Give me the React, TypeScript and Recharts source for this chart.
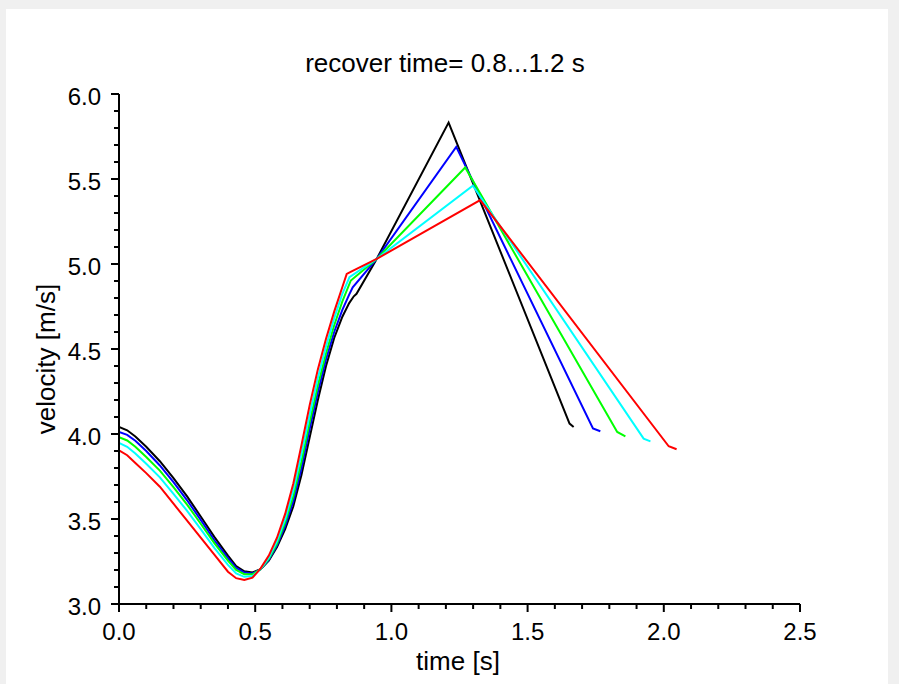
import { LineChart, Line, XAxis, YAxis } from "recharts";

// velocity over one cycle, one series per recover time (0.8 ... 1.2 s)
const black: [number, number][] = [
  [0, 4.041], [0.03, 4.022], [0.06, 3.985], [0.1, 3.925], [0.15, 3.84], [0.2, 3.74],
  [0.25, 3.633], [0.3, 3.515], [0.35, 3.395], [0.4, 3.285], [0.43, 3.223], [0.46, 3.192],
  [0.49, 3.186], [0.52, 3.205], [0.55, 3.255], [0.58, 3.335], [0.61, 3.44], [0.64, 3.575],
  [0.67, 3.76], [0.7, 3.98], [0.73, 4.2], [0.76, 4.4], [0.79, 4.565], [0.82, 4.69],
  [0.845, 4.77], [0.862, 4.81], [0.872, 4.825], [0.946, 5.03], [1.21, 5.832],
  [1.654, 4.061], [1.669, 4.041],
];
const blue: [number, number][] = [
  [0, 4.012], [0.03, 3.995], [0.06, 3.96], [0.1, 3.9], [0.15, 3.815], [0.2, 3.717],
  [0.25, 3.61], [0.3, 3.495], [0.35, 3.375], [0.4, 3.27], [0.43, 3.212], [0.46, 3.185],
  [0.49, 3.18], [0.52, 3.205], [0.55, 3.26], [0.58, 3.345], [0.61, 3.46], [0.64, 3.605],
  [0.67, 3.8], [0.7, 4.03], [0.73, 4.245], [0.76, 4.44], [0.79, 4.6], [0.82, 4.73],
  [0.845, 4.82], [0.858, 4.863], [0.946, 5.03], [1.238, 5.689], [1.74, 4.032], [1.767, 4.016],
];
const green: [number, number][] = [
  [0, 3.982], [0.03, 3.962], [0.06, 3.925], [0.1, 3.865], [0.15, 3.785], [0.2, 3.688],
  [0.25, 3.585], [0.3, 3.472], [0.35, 3.358], [0.4, 3.255], [0.43, 3.2], [0.46, 3.175],
  [0.49, 3.175], [0.52, 3.205], [0.55, 3.265], [0.58, 3.355], [0.61, 3.48], [0.64, 3.635],
  [0.67, 3.84], [0.7, 4.07], [0.73, 4.285], [0.76, 4.475], [0.79, 4.64], [0.82, 4.78],
  [0.851, 4.903], [0.946, 5.03], [1.271, 5.568], [1.829, 4.012], [1.859, 3.986],
];
const cyan: [number, number][] = [
  [0, 3.947], [0.03, 3.925], [0.06, 3.885], [0.1, 3.825], [0.15, 3.745], [0.2, 3.648],
  [0.25, 3.548], [0.3, 3.44], [0.35, 3.33], [0.4, 3.23], [0.43, 3.18], [0.46, 3.16],
  [0.49, 3.165], [0.52, 3.205], [0.55, 3.272], [0.58, 3.37], [0.61, 3.5], [0.64, 3.67],
  [0.67, 3.885], [0.7, 4.115], [0.73, 4.33], [0.76, 4.515], [0.79, 4.68], [0.82, 4.825],
  [0.846, 4.922], [0.946, 5.03], [1.299, 5.46], [1.926, 3.973], [1.951, 3.957],
];
const red: [number, number][] = [
  [0, 3.904], [0.03, 3.875], [0.06, 3.83], [0.1, 3.77], [0.15, 3.69], [0.2, 3.59],
  [0.25, 3.49], [0.3, 3.39], [0.35, 3.29], [0.4, 3.19], [0.43, 3.152], [0.46, 3.141],
  [0.49, 3.155], [0.52, 3.21], [0.55, 3.285], [0.58, 3.39], [0.61, 3.53], [0.64, 3.709],
  [0.67, 3.935], [0.7, 4.17], [0.73, 4.38], [0.76, 4.56], [0.79, 4.72], [0.82, 4.865],
  [0.836, 4.942], [0.854, 4.957], [0.946, 5.03], [1.326, 5.376], [2.018, 3.928], [2.047, 3.91],
];

const xMajor = [0, 0.5, 1, 1.5, 2, 2.5];
const xMinor = [0.1, 0.2, 0.3, 0.4, 0.6, 0.7, 0.8, 0.9, 1.1, 1.2, 1.3, 1.4, 1.6, 1.7, 1.8, 1.9, 2.1, 2.2, 2.3, 2.4];
const yMajor = [3, 3.5, 4, 4.5, 5, 5.5, 6];
const yMinor = [3.1, 3.2, 3.3, 3.4, 3.6, 3.7, 3.8, 3.9, 4.1, 4.2, 4.3, 4.4, 4.6, 4.7, 4.8, 4.9, 5.1, 5.2, 5.3, 5.4, 5.6, 5.7, 5.8, 5.9];

const series = [
  { name: "0.8", color: "#000000", points: black },
  { name: "0.9", color: "#0000ff", points: blue },
  { name: "1.0", color: "#00ff00", points: green },
  { name: "1.1", color: "#00ffff", points: cyan },
  { name: "1.2", color: "#ff0000", points: red },
];

const FONT = '"Liberation Sans", Arial, sans-serif';

function XTick(props: any) {
  const { x, y, payload } = props;
  const major = xMajor.includes(payload.value);
  return (
    <g>
      <line x1={x} y1={y} x2={x} y2={y + (major ? 8 : 5)} stroke="#000" strokeWidth={2} />
      {major && (
        <text x={x} y={y + 36} textAnchor="middle" fontSize={24} fontFamily={FONT} fill="#000">
          {payload.value.toFixed(1)}
        </text>
      )}
    </g>
  );
}

function YTick(props: any) {
  const { x, y, payload } = props;
  const major = yMajor.includes(payload.value);
  return (
    <g>
      <line x1={x - (major ? 8 : 5)} y1={y} x2={x} y2={y} stroke="#000" strokeWidth={2} />
      {major && (
        <text x={x - 18} y={y + 11} textAnchor="end" fontSize={24} fontFamily={FONT} fill="#000">
          {payload.value.toFixed(1)}
        </text>
      )}
    </g>
  );
}

export default function App() {
  return (
    <div style={{ position: "fixed", left: 0, top: 0, width: 899, height: 684, background: "#f0f0f0" }}>
      <div style={{ position: "absolute", left: 6, top: 9, width: 882, height: 675, background: "#fff" }} />
      <div style={{ position: "absolute", left: 0, top: 0 }}>
        <LineChart width={899} height={684} margin={{ top: 94, right: 99, bottom: 40, left: 59 }}>
          <XAxis
            type="number"
            dataKey="t"
            domain={[0, 2.5]}
            ticks={[...xMajor, ...xMinor].sort((a, b) => a - b)}
            interval={0}
            height={40}
            tickSize={0}
            tickMargin={0}
            tickLine={false}
            axisLine={{ stroke: "#000", strokeWidth: 2 }}
            tick={<XTick />}
            allowDataOverflow
          />
          <YAxis
            type="number"
            dataKey="v"
            domain={[3, 6]}
            ticks={[...yMajor, ...yMinor].sort((a, b) => a - b)}
            interval={0}
            width={60}
            tickSize={0}
            tickMargin={0}
            tickLine={false}
            axisLine={{ stroke: "#000", strokeWidth: 2 }}
            tick={<YTick />}
            allowDataOverflow
          />
          {series.map((s) => (
            <Line
              key={s.name}
              data={s.points.map(([t, v]) => ({ t, v }))}
              dataKey="v"
              type="linear"
              stroke={s.color}
              strokeWidth={2}
              dot={false}
              activeDot={false}
              isAnimationActive={false}
            />
          ))}
        </LineChart>
      </div>
      <div style={{ position: "absolute", left: 0, width: 899, top: 48, textAlign: "center", paddingLeft: 0, fontFamily: FONT, fontSize: 26, lineHeight: "30px", color: "#000" }}>
        <span style={{ position: "absolute", left: 445, transform: "translateX(-50%)", whiteSpace: "nowrap" }}>
          recover time= 0.8...1.2 s
        </span>
      </div>
      <div style={{ position: "absolute", left: 458, top: 646, transform: "translateX(-50%)", whiteSpace: "nowrap", fontFamily: FONT, fontSize: 26, lineHeight: "30px", color: "#000" }}>
        time [s]
      </div>
      <div style={{ position: "absolute", left: 46, top: 359, transform: "translate(-50%, -50%) rotate(-90deg)", whiteSpace: "nowrap", fontFamily: FONT, fontSize: 26, lineHeight: "30px", color: "#000" }}>
        velocity [m/s]
      </div>
    </div>
  );
}
